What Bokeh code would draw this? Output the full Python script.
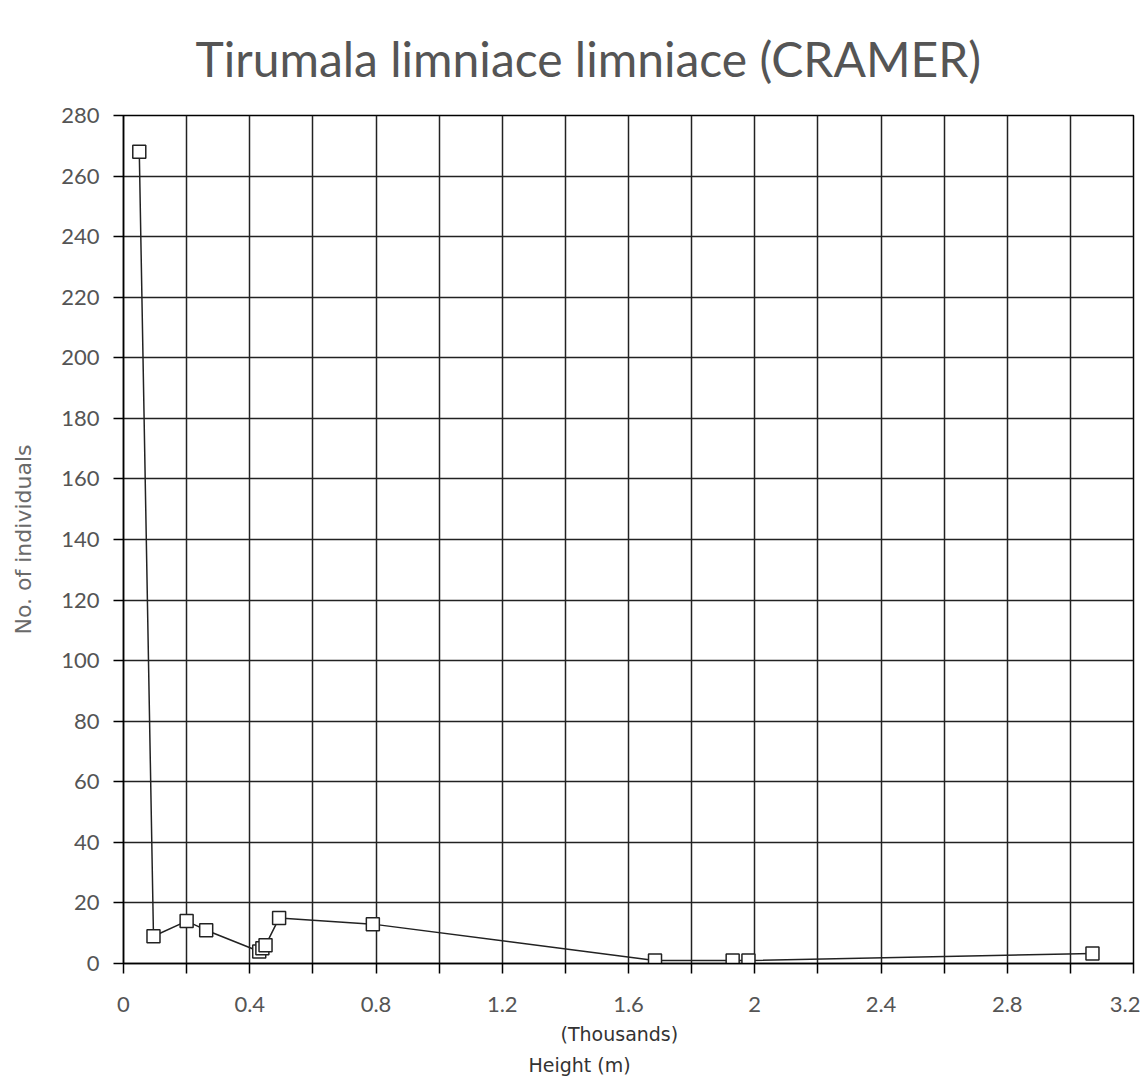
from bokeh.plotting import figure
from bokeh.models import FixedTicker, Range1d, Title
from bokeh.embed import file_html
from bokeh.resources import INLINE

# data (height in thousands of metres, number of individuals)
height_k = [0.05, 0.095, 0.2, 0.262, 0.43, 0.44, 0.45, 0.493, 0.79, 1.684, 1.93, 1.98, 3.07]
individuals = [268, 9, 14, 11, 4, 5, 6, 15, 13, 1, 1, 1, 3.3]

x_ticks = [0, 0.2, 0.4, 0.6, 0.8, 1.0, 1.2, 1.4, 1.6, 1.8, 2.0, 2.2, 2.4, 2.6, 2.8, 3.0, 3.2]
x_tick_labels = ["0", "", "0.4", "", "0.8", "", "1.2", "", "1.6", "", "2", "", "2.4", "", "2.8", "", "3.2"]
y_ticks = list(range(0, 281, 20))

title = "Tirumala limniace limniace (CRAMER)"
x_label_1 = "(Thousands)"
x_label_2 = "Height (m)"
y_label = "No. of individuals"

FONT = "Lato"
p = figure(width=1140, height=1082, output_backend="svg", toolbar_location=None,
           x_range=Range1d(0, 3.2), y_range=Range1d(0, 280),
           min_border_left=123, min_border_right=7, min_border_top=115, min_border_bottom=119)

p.title.text = title
p.title.align = "left"
p.title.vertical_align = "top"
p.title.text_font = FONT
p.title.text_font_size = "48px"
p.title.text_font_style = "normal"
p.title.text_color = "#555555"
p.title.offset = 72
p.title.standoff = 54

p.xaxis.ticker = FixedTicker(ticks=x_ticks)
p.xaxis.major_label_overrides = {t: l for t, l in zip(x_ticks, x_tick_labels)}
p.yaxis.ticker = FixedTicker(ticks=y_ticks)
p.xgrid.ticker = FixedTicker(ticks=x_ticks)
p.ygrid.ticker = FixedTicker(ticks=y_ticks)

for ax in (p.xaxis, p.yaxis):
    ax.axis_line_color = "black"
    ax.axis_line_width = 1.5
    ax.major_tick_line_color = "black"
    ax.major_tick_line_width = 1.5
    ax.major_tick_out = 10
    ax.major_tick_in = 0
    ax.minor_tick_line_color = None
    ax.major_label_text_font = FONT
    ax.major_label_text_font_size = "22px"
    ax.major_label_text_color = "#555555"
p.yaxis.major_label_standoff = 14
p.xaxis.major_label_standoff = 23

p.yaxis.axis_label = y_label
p.yaxis.axis_label_text_font = "DejaVu Sans"
p.yaxis.axis_label_text_font_size = "22px"
p.yaxis.axis_label_text_font_style = "normal"
p.yaxis.axis_label_text_color = "#6a6a6a"
p.yaxis.axis_label_standoff = 22

for g in (p.xgrid, p.ygrid):
    g.grid_line_color = "#222222"
    g.grid_line_width = 1.5
    g.grid_line_alpha = 1.0

p.outline_line_color = "black"
p.outline_line_width = 1.5
p.background_fill_color = "white"
p.border_fill_color = "white"

p.line(height_k, individuals, line_color="#222222", line_width=1.5)
p.scatter(height_k, individuals, marker="square", size=13, fill_color="white",
          line_color="#222222", line_width=1.5)

p.add_layout(Title(text=x_label_1, align="left", offset=437, text_font="DejaVu Sans",
                   text_font_size="19px", text_font_style="normal", text_color="#333333",
                   standoff=12), "below")
p.add_layout(Title(text=x_label_2, align="left", offset=405, text_font="DejaVu Sans",
                   text_font_size="19px", text_font_style="normal", text_color="#333333",
                   standoff=3), "below")

open("out.html", "w").write(file_html(p, INLINE))
